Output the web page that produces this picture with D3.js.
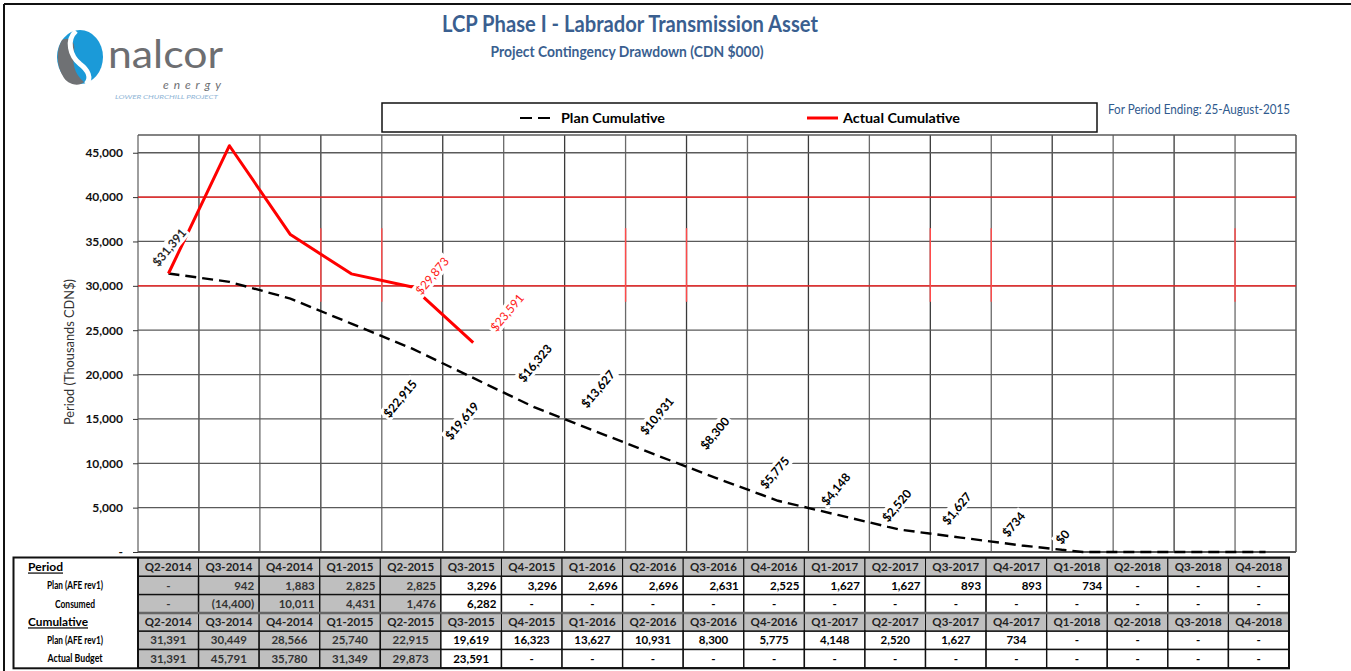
<!DOCTYPE html>
<html>
<head>
<meta charset="utf-8">
<script src="https://cdn.jsdelivr.net/npm/d3@7"></script>
<style>
  body { margin: 0; background: #fff; }
  svg text { font-family: Lato, "Open Sans", sans-serif; }
</style>
</head>
<body>
<svg id="chart" width="1351" height="671"></svg>
<script>
// quarters shown on the x axis and in the table
const quarters = ['Q2-2014', 'Q3-2014', 'Q4-2014', 'Q1-2015', 'Q2-2015', 'Q3-2015', 'Q4-2015',
  'Q1-2016', 'Q2-2016', 'Q3-2016', 'Q4-2016', 'Q1-2017', 'Q2-2017', 'Q3-2017', 'Q4-2017',
  'Q1-2018', 'Q2-2018', 'Q3-2018', 'Q4-2018'];

// period values (null = "-")
const planPeriod = [null, 942, 1883, 2825, 2825, 3296, 3296, 2696, 2696, 2631, 2525, 1627, 1627,
  893, 893, 734, null, null, null];
const consumedPeriod = [null, -14400, 10011, 4431, 1476, 6282, null, null, null, null, null, null,
  null, null, null, null, null, null, null];

// cumulative values
const planCumulative = [31391, 30449, 28566, 25740, 22915, 19619, 16323, 13627, 10931, 8300, 5775,
  4148, 2520, 1627, 734, 0, 0, 0, 0];
const actualCumulative = [31391, 45791, 35780, 31349, 29873, 23591];

const yTicks = [0, 5000, 10000, 15000, 20000, 25000, 30000, 35000, 40000, 45000];
const redLines = [30000, 40000];

// which points carry a data label
const planLabelIdx = [4, 5, 6, 7, 8, 9, 10, 11, 12, 13, 14, 15];
const actualLabelIdx = [0, 4, 5];

const svg = d3.select('#chart');
const fmt = d3.format(',');

const x = d3.scaleBand().domain(quarters).range([138, 1296]);
const y = d3.scaleLinear().domain([0, 47000]).range([552, 135]);
const cx = i => x(quarters[i]) + x.bandwidth() / 2;

// outer frame (top and left only)
svg.append('line').attr('x1', 4).attr('x2', 1351).attr('y1', 4).attr('y2', 4)
  .attr('stroke', '#111').attr('stroke-width', 2);
svg.append('line').attr('x1', 4).attr('x2', 4).attr('y1', 4).attr('y2', 671)
  .attr('stroke', '#111').attr('stroke-width', 2);

// ---- logo ----
const logo = svg.append('g');
logo.append('ellipse').attr('cx', 80).attr('cy', 57).attr('rx', 23).attr('ry', 27).attr('fill', '#1b9ad8');
logo.append('path')
  .attr('d', 'M62,40 C56,50 56,66 64,78 C70,86 80,86 84,82 C74,74 72,62 74,52 C76,42 70,36 62,40 Z')
  .attr('fill', '#6f7174');
logo.append('path')
  .attr('d', 'M76,31 C66,40 70,56 80,64 C88,70 92,78 86,84')
  .attr('fill', 'none').attr('stroke', '#fff').attr('stroke-width', 5);
logo.append('text').attr('x', 108).attr('y', 68).text('nalcor')
  .attr('font-size', 38).attr('fill', '#6d6e71')
  .attr('textLength', 115).attr('lengthAdjust', 'spacingAndGlyphs');
logo.append('text').attr('x', 163).attr('y', 89).text('energy')
  .attr('font-size', 12).attr('font-style', 'italic').attr('fill', '#6d6e71')
  .attr('textLength', 58).attr('lengthAdjust', 'spacing');
logo.append('text').attr('x', 115).attr('y', 99).text('LOWER CHURCHILL PROJECT')
  .attr('font-size', 6.5).attr('font-style', 'italic').attr('fill', '#8fb5d6')
  .attr('textLength', 103).attr('lengthAdjust', 'spacingAndGlyphs');

// ---- titles ----
svg.append('text').attr('x', 630).attr('y', 32).attr('text-anchor', 'middle')
  .text('LCP Phase I - Labrador Transmission Asset')
  .attr('font-size', 23).attr('font-weight', 'bold').attr('fill', '#3a5f90')
  .attr('textLength', 376).attr('lengthAdjust', 'spacingAndGlyphs');
svg.append('text').attr('x', 627).attr('y', 57).attr('text-anchor', 'middle')
  .text('Project Contingency Drawdown (CDN $000)')
  .attr('font-size', 14.5).attr('font-weight', 'bold').attr('fill', '#3a5f90')
  .attr('textLength', 273).attr('lengthAdjust', 'spacingAndGlyphs');
svg.append('text').attr('x', 1108).attr('y', 114)
  .text('For Period Ending: 25-August-2015')
  .attr('font-size', 13).attr('fill', '#2f5a8e')
  .attr('textLength', 182).attr('lengthAdjust', 'spacingAndGlyphs');

// ---- grid ----
const grid = svg.append('g');
const step = x.step();
d3.range(quarters.length + 1).forEach(i => {
  grid.append('line')
    .attr('x1', 138 + i * step).attr('x2', 138 + i * step)
    .attr('y1', 135).attr('y2', 552)
    .attr('stroke', i % 2 ? '#3a3a3a' : '#6a6a6a').attr('stroke-width', 1.3);
});
yTicks.concat([47000]).forEach(t => {
  grid.append('line')
    .attr('x1', 138).attr('x2', 1296).attr('y1', y(t)).attr('y2', y(t))
    .attr('stroke', t === 0 ? '#555' : '#5a5a5a').attr('stroke-width', t === 0 ? 2 : 1.3);
});
redLines.forEach(t => {
  grid.append('line')
    .attr('x1', 138).attr('x2', 1296).attr('y1', y(t)).attr('y2', y(t))
    .attr('stroke', '#ff1a1a').attr('stroke-width', 1.4);
});
// short red vertical marks between the two red lines
[3, 4, 8, 9, 13, 14, 18].forEach(i => {
  grid.append('line')
    .attr('x1', 138 + i * step).attr('x2', 138 + i * step)
    .attr('y1', y(36500)).attr('y2', y(28200))
    .attr('stroke', '#ff4a4a').attr('stroke-width', 1.4);
});

// ---- y axis ----
const yAxis = svg.append('g').attr('transform', 'translate(138,0)')
  .call(d3.axisLeft(y).tickValues(yTicks)
    .tickFormat(d => d === 0 ? '-' : fmt(d))
    .tickSize(5).tickPadding(10));
yAxis.select('.domain').remove();
yAxis.selectAll('line').attr('stroke', '#333');
yAxis.selectAll('text').attr('font-size', 12).attr('font-weight', 'bold')
  .attr('fill', '#111').style('font-family', 'Lato, sans-serif');

svg.append('text')
  .attr('transform', 'translate(74,352) rotate(-90)')
  .attr('text-anchor', 'middle')
  .text('Period (Thousands CDN$)')
  .attr('font-size', 12.5).attr('fill', '#333')
  .attr('textLength', 146).attr('lengthAdjust', 'spacingAndGlyphs');

// ---- lines ----
const line = d3.line().x((d, i) => cx(i)).y(d => y(d));

svg.append('path').datum(planCumulative)
  .attr('d', line)
  .attr('fill', 'none').attr('stroke', '#000').attr('stroke-width', 2.4)
  .attr('stroke-dasharray', '11,6');

svg.append('path').datum(actualCumulative)
  .attr('d', line)
  .attr('fill', 'none').attr('stroke', '#ff0000').attr('stroke-width', 3)
  .attr('stroke-linejoin', 'round');

// ---- data labels (white boxes, rotated) ----
const planShift = {4: [-12, 50], 5: [-11, 43], 6: [1, -44], 7: [3, -42], 8: [1, -39], 9: [-2, -45],
  10: [-3, -28], 11: [-3, -26], 12: [-3, -24], 13: [-4, -29], 14: [-8, -21], 15: [-20, -15]};
const actualShift = {0: [1, -26], 4: [20, -11], 5: [34, -30]};

function addLabel(i, v, shift, color, weight) {
  const g = svg.append('g')
    .attr('transform', 'translate(' + (cx(i) + shift[0]) + ',' + (y(v) + shift[1]) + ') rotate(-50)');
  const t = g.append('text')
    .attr('text-anchor', 'middle').attr('dy', '0.35em')
    .attr('font-size', 12).attr('font-weight', weight).attr('fill', color)
    .text('$' + fmt(v));
  const b = t.node().getBBox();
  g.insert('rect', 'text')
    .attr('x', b.x - 2).attr('y', b.y).attr('width', b.width + 4).attr('height', b.height)
    .attr('fill', '#fff');
}
planLabelIdx.forEach(i => addLabel(i, planCumulative[i], planShift[i], '#000', 'bold'));
actualLabelIdx.forEach(i => addLabel(i, actualCumulative[i], actualShift[i],
  i === 0 ? '#2a2a2a' : '#ff1a1a', i === 0 ? 'bold' : 'normal'));

// ---- legend ----
const legend = svg.append('g');
legend.append('rect').attr('x', 382).attr('y', 103).attr('width', 715).attr('height', 29)
  .attr('fill', '#fff').attr('stroke', '#111').attr('stroke-width', 1.5);
legend.append('line').attr('x1', 520).attr('x2', 556).attr('y1', 118).attr('y2', 118)
  .attr('stroke', '#000').attr('stroke-width', 2.2).attr('stroke-dasharray', '12,6');
legend.append('text').attr('x', 561).attr('y', 123).text('Plan Cumulative')
  .attr('font-size', 14).attr('font-weight', 'bold')
  .attr('textLength', 104).attr('lengthAdjust', 'spacingAndGlyphs');
legend.append('line').attr('x1', 807).attr('x2', 838).attr('y1', 118).attr('y2', 118)
  .attr('stroke', '#ff0000').attr('stroke-width', 3);
legend.append('text').attr('x', 843).attr('y', 123).text('Actual Cumulative')
  .attr('font-size', 14).attr('font-weight', 'bold')
  .attr('textLength', 117).attr('lengthAdjust', 'spacingAndGlyphs');

// ---- table ----
const tx = d3.scaleBand().domain(quarters).range([138, 1289]);
const rowH = 18.3;
const tableTop = 558;
const gray = '#bfbfbf';
const table = svg.append('g');

const fmtCell = v => v == null ? '-' : (v < 0 ? '(' + fmt(-v) + ')' : fmt(v));
const rows = [
  {label: 'Period', head: true},
  {label: 'Plan (AFE rev1)', values: planPeriod, align: 'right', w: 56},
  {label: 'Consumed', values: consumedPeriod, align: 'right', w: 40},
  {label: 'Cumulative', head: true},
  {label: 'Plan (AFE rev1)', values: planCumulative.map((v, i) => i < 15 ? v : null), align: 'middle', w: 56},
  {label: 'Actual Budget', values: quarters.map((q, i) => i < actualCumulative.length ? actualCumulative[i] : null), align: 'middle', w: 55}
];

rows.forEach((r, ri) => {
  const ry = tableTop + ri * rowH;
  quarters.forEach((q, i) => {
    const fill = r.head || i < 5 ? gray : '#fff';
    table.append('rect')
      .attr('x', tx(q)).attr('y', ry).attr('width', tx.bandwidth()).attr('height', rowH)
      .attr('fill', fill).attr('stroke', '#111').attr('stroke-width', r.head ? 1 : 1.4);
    const txt = r.head ? q : fmtCell(r.values[i]);
    const dash = txt === '-';
    const align = (r.head || dash) ? 'middle' : r.align;
    const xx = align === 'right' ? tx(q) + tx.bandwidth() - 5 : tx(q) + tx.bandwidth() / 2;
    table.append('text')
      .attr('x', xx).attr('y', ry + rowH / 2).attr('dy', '0.36em')
      .attr('text-anchor', align === 'right' ? 'end' : 'middle')
      .attr('font-size', 11.5).attr('font-weight', 'bold')
      .attr('fill', r.head ? '#222' : (i < 5 ? '#333' : '#000'))
      .text(txt);
  });
  if (r.head) {
    table.append('text').attr('x', 28).attr('y', ry + rowH / 2).attr('dy', '0.36em')
      .attr('font-size', 12).attr('font-weight', 'bold').attr('text-decoration', 'underline')
      .text(r.label)
      .attr('textLength', r.label === 'Period' ? 35 : 60).attr('lengthAdjust', 'spacingAndGlyphs');
  } else {
    table.append('text').attr('x', 75).attr('y', ry + rowH / 2).attr('dy', '0.36em')
      .attr('text-anchor', 'middle')
      .attr('font-size', 10.5).attr('font-weight', 'bold')
      .text(r.label)
      .attr('textLength', r.w).attr('lengthAdjust', 'spacingAndGlyphs');
  }
});
// heavier separator between period and cumulative blocks
table.append('line').attr('x1', 138).attr('x2', 1289)
  .attr('y1', tableTop + 3 * rowH).attr('y2', tableTop + 3 * rowH)
  .attr('stroke', '#666').attr('stroke-width', 2.5);
// outer box of the table
table.append('rect').attr('x', 13.5).attr('y', tableTop - 0.5)
  .attr('width', 1289 - 13.5).attr('height', rowH * 6 + 1)
  .attr('fill', 'none').attr('stroke', '#111').attr('stroke-width', 2);
table.append('line').attr('x1', 138).attr('x2', 138)
  .attr('y1', tableTop).attr('y2', tableTop + 6 * rowH)
  .attr('stroke', '#111').attr('stroke-width', 2);
</script>
</body>
</html>
